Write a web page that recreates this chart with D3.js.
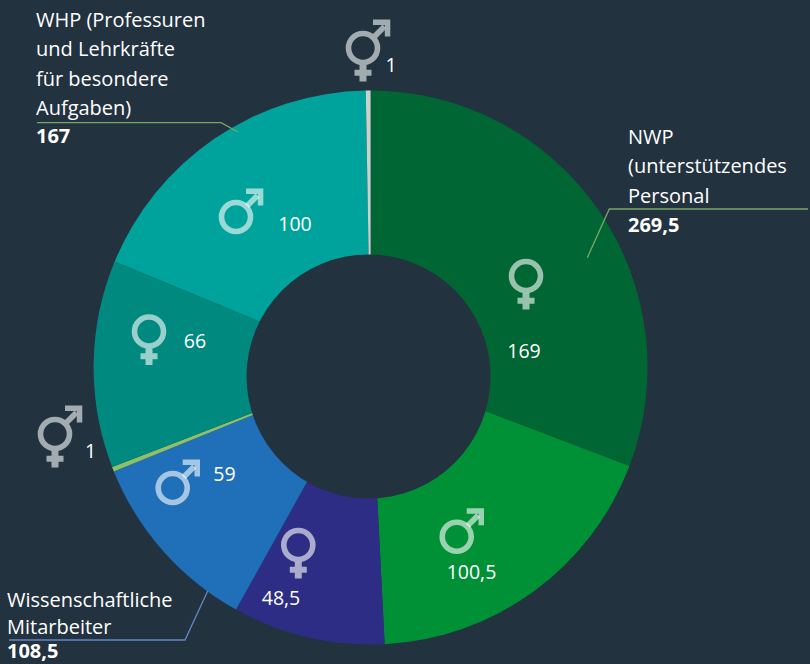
<!DOCTYPE html>
<html>
<head>
<meta charset="utf-8">
<script src="https://cdn.jsdelivr.net/npm/d3@7"></script>
<style>
    html, body { margin: 0; padding: 0; background: #22323f; }
    svg { display: block; }
    text { font-family: "Open Sans", sans-serif; fill: #fff; }
</style>
</head>
<body>
<div id="chart"></div>
<script>
// slices, clockwise from 12 o'clock
const genders = ["w", "m", "w", "m", "d", "w", "m", "d"];
const values = [169, 100.5, 48.5, 59, 1, 66, 100, 1];

// group labels
const groupLines = [
    ["NWP", "(unterstützendes", "Personal"],
    ["Wissenschaftliche", "Mitarbeiter"],
    ["WHP (Professuren", "und Lehrkräfte", "für besondere", "Aufgaben)"]
];
const groupTotals = [269.5, 108.5, 167];

// styling and layout, same order as the slices
const colors = ["#006633", "#009036", "#2e2d85", "#1f70b8", "#8cc06b", "#00897e", "#00a39b", "#c9d1d1"];
const iconSpots = [[526, 276], [456.7, 536.7], [298.3, 545], [172.7, 488], [55, 434], [149, 331.5], [236, 217], [363, 48]];
const labelSpots = [[524, 357.5], [471.5, 578.5], [281, 605], [224.5, 481], [90.5, 457.5], [195, 348], [295, 231], [391, 71.5]];
// x, first baseline, line gap, baseline of the total
const groupSpots = [[628, 144, 29.4, 231.7], [7, 607.3, 27, 658.3], [36, 26.7, 29.4, 143.3]];
const leaders = [
    {color: "#7aa867", points: [[808, 209], [609.3, 209], [587.3, 257.7]]},
    {color: "#6685c4", points: [[9, 640], [185, 640], [207.7, 591]]},
    {color: "#7aa867", points: [[37, 122.7], [221, 122.7], [238, 132]]}
];

const width = 810, height = 664;
const cx = 370.6, cy = 367.5, outerR = 277;
// the hole sits lower than the ring centre in the original
const holeX = 368.5, holeY = 376.5, holeR = 122;
const deg = Math.PI / 180;

const svg = d3.select("#chart").append("svg")
    .attr("width", width)
    .attr("height", height);

// the two "1" slices are drawn wider than their share so they stay visible
const minSlice = 1.5;
const pie = d3.pie().sort(null)
    .value(d => Math.max(d, minSlice))
    .startAngle(-0.6 * deg)
    .endAngle(359.4 * deg);
const arc = d3.arc().innerRadius(0).outerRadius(outerR);

let slices = pie(values);
// keep the first and last slice meeting at exactly 12 o'clock
slices[0].startAngle = 0;
slices[6].endAngle = 359 * deg;
slices[7].startAngle = 359 * deg;
slices[7].endAngle = 360 * deg;

// donut
svg.append("g")
    .attr("transform", "translate(" + cx + "," + cy + ")")
    .selectAll("path")
    .data(slices)
    .join("path")
    .attr("d", arc)
    .attr("fill", (d, i) => colors[i]);

svg.append("circle")
    .attr("cx", holeX)
    .attr("cy", holeY)
    .attr("r", holeR)
    .attr("fill", "#22323f");

// leader lines
const line = d3.line();
svg.selectAll(".leader")
    .data(leaders)
    .join("path")
    .attr("class", "leader")
    .attr("d", d => line(d.points))
    .attr("fill", "none")
    .attr("stroke", d => d.color)
    .attr("stroke-width", 1.3);

// gender icons, drawn around the centre of the ring
function drawIcon(g, gender) {
    let stroke = gender === "d" ? "#a2abb0" : "rgba(255,255,255,0.6)";
    g.append("circle")
        .attr("r", 14.5)
        .attr("fill", "none")
        .attr("stroke", stroke)
        .attr("stroke-width", 5.6);
    if (gender !== "m") {
        g.append("path")
            .attr("d", "M-3.5,17H3.5V21.7H8.5V27.7H3.5V33.5H-3.5V27.7H-8.5V21.7H-3.5Z")
            .attr("fill", stroke);
    }
    if (gender !== "w") {
        g.append("path")
            .attr("d", "M9,-13L19.5,-23.5L23.5,-19.5L13,-9Z")
            .attr("fill", stroke);
        g.append("path")
            .attr("d", "M10,-28.4H27.3V-11.5H21.8V-23H10Z")
            .attr("fill", stroke);
    }
}

svg.selectAll(".icon")
    .data(genders)
    .join("g")
    .attr("class", "icon")
    .attr("transform", (d, i) => "translate(" + iconSpots[i][0] + "," + iconSpots[i][1] + ")")
    .each(function (d) { drawIcon(d3.select(this), d); });

// value labels with german decimal comma
const fmt = v => String(v).replace(".", ",");

svg.selectAll(".value")
    .data(values)
    .join("text")
    .attr("class", "value")
    .attr("x", (d, i) => labelSpots[i][0])
    .attr("y", (d, i) => labelSpots[i][1])
    .attr("text-anchor", "middle")
    .attr("font-size", 19.5)
    .text(fmt);

// group labels
groupLines.forEach((lines, i) => {
    let spot = groupSpots[i];
    let t = svg.append("text").attr("font-size", 20);
    lines.forEach((s, j) => {
        t.append("tspan")
            .attr("x", spot[0])
            .attr("y", spot[1] + j * spot[2])
            .text(s);
    });
    svg.append("text")
        .attr("x", spot[0])
        .attr("y", spot[3])
        .attr("font-size", 20)
        .attr("font-weight", 700)
        .text(fmt(groupTotals[i]));
});
</script>
</body>
</html>
